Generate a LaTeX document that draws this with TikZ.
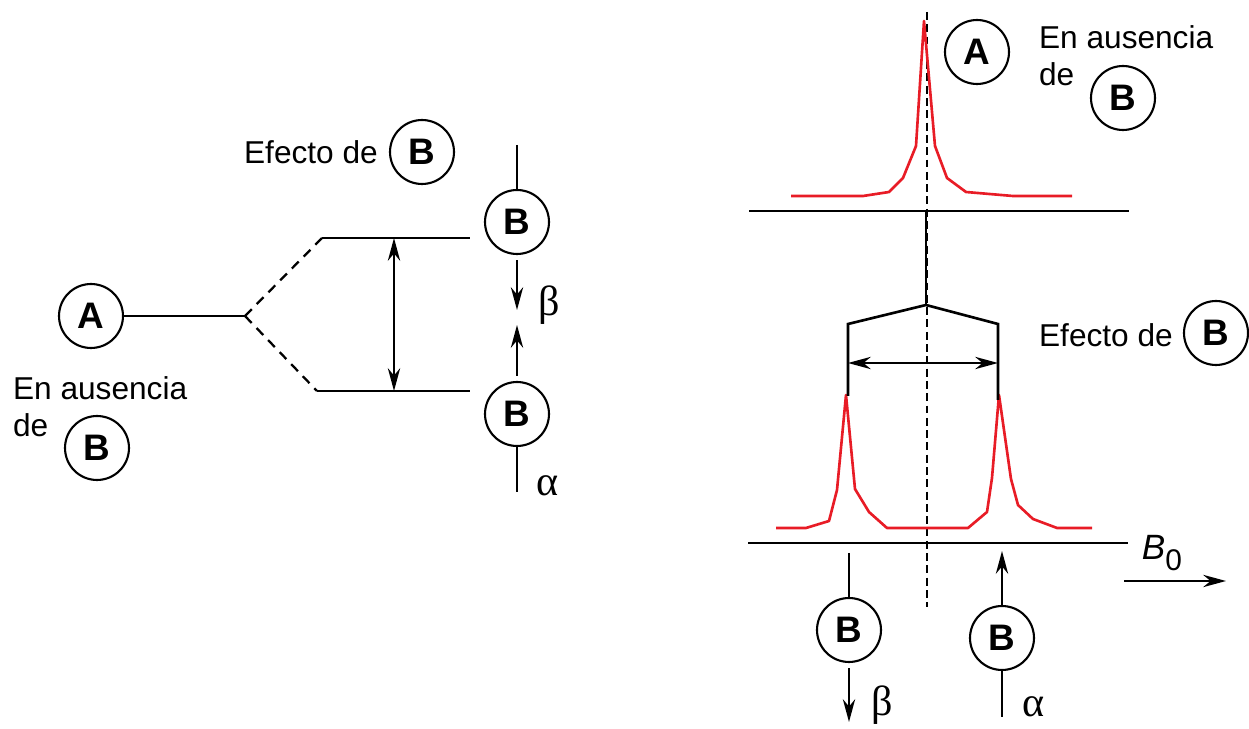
\documentclass[tikz,border=0pt]{standalone}
\usepackage{fontspec}
\setmainfont{Liberation Sans}
\newfontfamily\grk{Liberation Serif}
\usetikzlibrary{arrows.meta}
\definecolor{pico}{rgb}{0.91,0.11,0.15}
\tikzset{
  spin/.style={circle, draw, line width=1.2pt, minimum size=1.28cm, inner sep=0pt, font=\fontsize{21}{23}\selectfont\bfseries},
  lbl/.style={inner sep=0pt, font=\fontsize{18}{21}\selectfont, align=left},
  grlbl/.style={inner sep=0pt, font=\fontsize{24}{26}\selectfont\grk},
  nivel/.style={line width=1.5pt},
  senal/.style={pico, line width=1.5pt, line join=round}
}
\begin{document}
\begin{tikzpicture}[x=0.02cm, y=-0.02cm, >={Stealth[length=13pt,width=7pt]}, line width=1.3pt]
  \useasboundingbox (0,0) rectangle (1249,729);

  % desdoblamiento de niveles
  \node[spin] (A1) at (91,316) {A};
  \node[spin] (Babs1) at (97,448) {B};
  \node[lbl, anchor=west] (aus1) at (12,407) {En ausencia\\de};
  \node[spin] (Bef1) at (422,152) {B};
  \node[lbl, anchor=west] (ef1) at (243,152) {Efecto de};

  \coordinate (split) at (245,316);
  \coordinate (upL) at (322,238);
  \coordinate (upR) at (470,238);
  \coordinate (loL) at (317,391);
  \coordinate (loR) at (470,391);
  \coordinate (gapU) at (394,238);
  \coordinate (gapD) at (394,391);

  \draw[nivel] (A1.east) -- (split);
  \draw[dashed, dash pattern=on 5.5pt off 4pt] (split) -- (upL);
  \draw[dashed, dash pattern=on 5.5pt off 4pt] (split) -- (loL);
  \draw[nivel] (upL) -- (upR);
  \draw[nivel] (loL) -- (loR);
  \draw[<->] (gapU) -- (gapD);

  % espines de B
  \node[spin] (Bup) at (517,222) {B};
  \node[spin] (Bdn) at (517,414) {B};
  \coordinate (topB) at (517,145);
  \coordinate (tipB) at (517,310);
  \coordinate (tipA) at (517,325);
  \coordinate (botA) at (517,492);
  \draw (topB) -- (Bup.north);
  \draw[->] ([yshift=-3pt]Bup.south) -- (tipB);
  \draw[->] ([yshift=3pt]Bdn.north) -- (tipA);
  \draw (Bdn.south) -- (botA);
  \node[grlbl] (beta1) at (549,305) {β};
  \node[grlbl] (alfa1) at (548,486) {α};

  % espectro
  \coordinate (ctop) at (927,12);
  \coordinate (cbot) at (927,607);
  \draw[dashed, dash pattern=on 4.5pt off 2.5pt] (ctop) -- (cbot);
  \draw (749,211) -- (1129,211);
  \draw (748,543) -- (1128,543);

  \draw[senal] (791,196) -- (863,196) -- (889,192) -- (903,178) -- (916,146) -- (924,21)
    -- (935,146) -- (947,178) -- (966,192) -- (1013,196) -- (1072,196);
  \draw[senal] (776,528) -- (806,528) -- (829,521) -- (837,490) -- (846,395) -- (855,489)
    -- (869,512) -- (887,528) -- (968,528) -- (987,512) -- (992,478) -- (999,395)
    -- (1011,479) -- (1018,505) -- (1033,519) -- (1057,528) -- (1092,528);

  \coordinate (raiz) at (926,305);
  \coordinate (brL) at (848,324);
  \coordinate (brR) at (998,324);
  \draw[line width=1.5pt] (926,211) -- (raiz);
  \draw[line width=1.5pt] (848,396) -- (brL) -- (raiz) -- (brR) -- (998,400);
  \draw[<->] (848,363) -- (998,363);

  \node[spin] (A2) at (977,52) {A};
  \node[spin] (Babs2) at (1123,98) {B};
  \node[lbl, anchor=west] (aus2) at (1038,56) {En ausencia\\de};
  \node[spin] (Bef2) at (1216,333) {B};
  \node[lbl, anchor=west] (ef2) at (1038,335) {Efecto de};

  \node[spin] (Bb) at (849,630) {B};
  \node[spin] (Ba) at (1002,638) {B};
  \coordinate (bTop) at (849,553);
  \coordinate (bTip) at (849,722);
  \coordinate (aTip) at (1002,551);
  \coordinate (aBot) at (1002,717);
  \draw (bTop) -- (Bb.north);
  \draw[->] ([yshift=-3pt]Bb.south) -- (bTip);
  \draw[->] (Ba.north) -- (aTip);
  \draw (Ba.south) -- (aBot);
  \node[grlbl] (beta2) at (882,705) {β};
  \node[grlbl] (alfa2) at (1034,707) {α};

  % campo
  \node[inner sep=0pt, font=\fontsize{20}{22}\selectfont] (campo) at (1162,553) {\itshape B\/\upshape\raisebox{-0.55ex}{\fontsize{17}{19}\selectfont 0}};
  \coordinate (cL) at (1124,581);
  \coordinate (cR) at (1226,581);
  \draw[->] (cL) -- (cR);
\end{tikzpicture}
\end{document}
